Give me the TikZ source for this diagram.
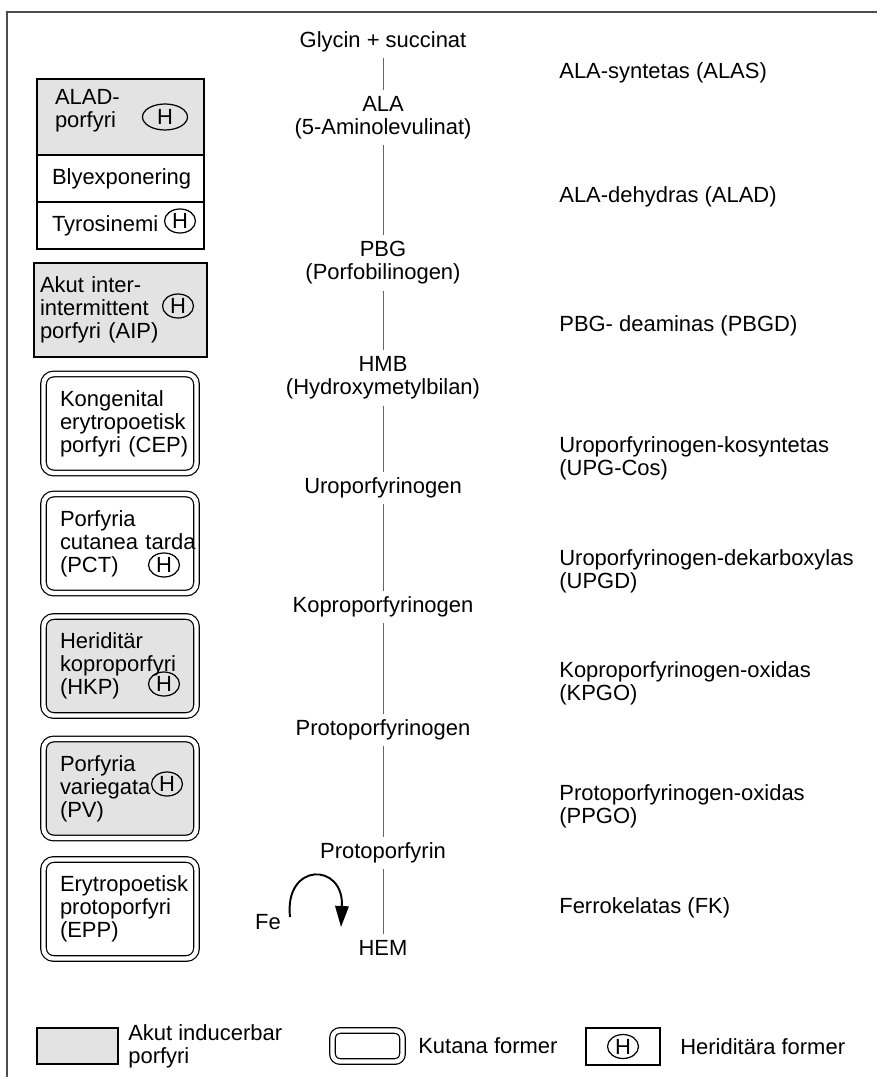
\documentclass[tikz,border=0pt]{standalone}
\usepackage{fontspec}
\setmainfont{Liberation Sans}
\usetikzlibrary{arrows.meta, positioning, shapes.geometric}

\begin{document}
\begin{tikzpicture}[
  x=0.02cm, y=-0.02cm,
  font=\fontsize{12.5}{13.1}\selectfont,
  met/.style={align=center},
  enz/.style={anchor=west, align=left, inner sep=0},
  link/.style={draw=black!60, line width=0.5pt},
  frame/.style={draw=black!70, line width=1.1pt},
  plain/.style={rectangle, draw, line width=0.8pt, outer sep=0, align=left},
  acute/.style={plain, fill=black!11},
  cut/.style={rectangle, draw, rounded corners=2mm, double, double distance=2.5pt,
    line width=0.7pt, outer sep=0},
  skin/.style={cut, minimum width=3.06cm, minimum height=1.98cm, text width=2.4cm, align=left},
  hmark/.style={ellipse, draw, line width=0.7pt, inner sep=0,
    minimum width=0.62cm, minimum height=0.48cm},
  turn/.style={-{Triangle[length=4.2mm, width=2.7mm]}, line width=1.1pt}
]
  \useasboundingbox (0,0) rectangle (877,1077);
  \draw[frame] (7,1077) -- (7,12) -- (877,12);

  % metabolites
  \node[met] (gly) at (383,42) {Glycin + succinat};
  \node[met] (ala) at (383,117.5) {ALA\\(5-Aminolevulinat)};
  \node[met] (pbg) at (383,263) {PBG\\(Porfobilinogen)};
  \node[met] (hmb) at (383,378) {HMB\\(Hydroxymetylbilan)};
  \node[met] (uro) at (383,488) {Uroporfyrinogen};
  \node[met] (kop) at (383,607) {Koproporfyrinogen};
  \node[met] (ppg) at (383,730) {Protoporfyrinogen};
  \node[met] (ppn) at (383,853) {Protoporfyrin};
  \node[met] (hem) at (383,948) {HEM};

  \draw[link] (gly) -- (ala);
  \draw[link] (ala) -- (pbg);
  \draw[link] (pbg) -- (hmb);
  \draw[link] (hmb) -- (uro);
  \draw[link] (uro) -- (kop);
  \draw[link] (kop) -- (ppg);
  \draw[link] (ppg) -- (ppn);
  \draw[link] (ppn) -- (hem);

  % iron
  \node (fe) at (268,922) {Fe};
  \coordinate (fein) at (290,917);
  \coordinate (feout) at (341,927);
  \draw[turn] (fein) .. controls (284,862) and (344,862) .. (feout);

  % enzymes
  \node[enz] (alas) at (559,73) {ALA-syntetas (ALAS)};
  \node[enz] (aladz) at (559,197) {ALA-dehydras (ALAD)};
  \node[enz] (pbgd) at (559,326) {PBG- deaminas (PBGD)};
  \node[enz] (upgc) at (559,458.5) {Uroporfyrinogen-kosyntetas\\(UPG-Cos)};
  \node[enz] (upgd) at (559,571.5) {Uroporfyrinogen-dekarboxylas\\(UPGD)};
  \node[enz] (kpgo) at (559,683.5) {Koproporfyrinogen-oxidas\\(KPGO)};
  \node[enz] (ppgo) at (559,806.5) {Protoporfyrinogen-oxidas\\(PPGO)};
  \node[enz] (fk) at (559,908) {Ferrokelatas (FK)};

  % diseases
  \node[acute, minimum width=3.34cm, minimum height=1.52cm, text width=2.62cm]
    (alad) at (120.5,117) {ALAD-\\porfyri\rule[-10pt]{0pt}{0pt}};
  \node[plain, below=0pt of alad, minimum width=3.34cm, minimum height=0.94cm,
    text width=2.74cm] (bly) {Blyexponering};
  \node[plain, below=0pt of bly, minimum width=3.34cm, minimum height=0.94cm,
    text width=2.74cm] (tyr) {Tyrosinemi};
  \node[acute, minimum width=3.34cm, minimum height=1.88cm, text width=3.22cm]
    (aip) at (120.5,310) {Akut inter-\\intermittent\\porfyri~(AIP)};
  \node[skin] (cep) at (120,423.5) {Kongenital\\erytropoetisk\\porfyri~(CEP)};
  \node[skin] (pct) at (120,543.5) {Porfyria\\cutanea~tarda\\(PCT)};
  \node[skin, fill=black!11] (hkp) at (120,666) {Heriditär\\koproporfyri\\(HKP)};
  \node[skin, fill=black!11] (pv) at (120,788.5) {Porfyria\\variegata\\(PV)};
  \node[skin] (epp) at (120,909) {Erytropoetisk\\protoporfyri\\(EPP)};

  \node[hmark, minimum width=0.9cm, minimum height=0.52cm] (aladH) at (165,117) {H};
  \node[hmark] (tyrH) at (180,221) {H};
  \node[hmark] (aipH) at (178,306) {H};
  \node[hmark] (pctH) at (164,565) {H};
  \node[hmark] (hkpH) at (164,684) {H};
  \node[hmark] (pvH) at (167,784) {H};

  % legend
  \node[acute, minimum width=1.62cm, minimum height=0.72cm] (ka) at (77.5,1046) {};
  \node[enz, right=0.2cm of ka] (kal) {Akut inducerbar\\porfyri};
  \node[cut, rounded corners=1.5mm, minimum width=1.4cm, minimum height=0.62cm]
    (kk) at (367.5,1046) {};
  \node[enz, right=0.31cm of kk] (kkl) {Kutana former};
  \node[plain, minimum width=1.48cm, minimum height=0.74cm] (kh) at (623,1046.5) {};
  \node[hmark] (khH) at (kh) {H};
  \node[enz, right=0.4cm of kh] (khl) {Heriditära former};
\end{tikzpicture}
\end{document}
